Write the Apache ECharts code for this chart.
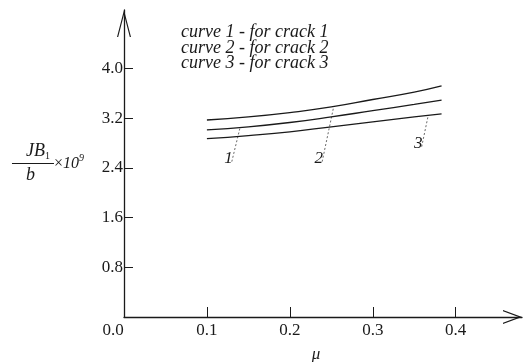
<!DOCTYPE html>
<html>
<head>
<meta charset="utf-8">
<script src="https://cdn.jsdelivr.net/npm/echarts@6/dist/echarts.min.js"></script>
<style>
  html, body { margin: 0; padding: 0; background: #fff; }
  #chart { width: 525px; height: 362px; }
</style>
</head>
<body>
<div id="chart"></div>
<script>
// friction coefficient samples along the x axis
const mu = [0.10, 0.15, 0.20, 0.25, 0.30, 0.35, 0.383];
// JB1/b x 10^9 for the three cracks
const curve1 = [3.17, 3.22, 3.29, 3.38, 3.50, 3.62, 3.72];
const curve2 = [3.01, 3.06, 3.13, 3.22, 3.32, 3.42, 3.49];
const curve3 = [2.87, 2.92, 2.98, 3.06, 3.14, 3.22, 3.27];

// leader lines: [label end, curve end] in data units, with the label text
const leader1 = [[0.130, 2.50], [0.140, 3.05]];
const leader2 = [[0.239, 2.50], [0.253, 3.39]];
const leader3 = [[0.359, 2.74], [0.367, 3.25]];
const leaderText = ['1', '2', '3'];

const xTicks = [0.1, 0.2, 0.3, 0.4];
const xLabels = [0, 0.1, 0.2, 0.3, 0.4];
const yTicks = [0.8, 1.6, 2.4, 3.2, 4.0];

const legendLines = [
  'curve 1 - for crack 1',
  'curve 2 - for crack 2',
  'curve 3 - for crack 3'
];

const serif = '"Liberation Serif", "DejaVu Serif", serif';
const ink = '#1a1a1a';

// open chevron heads for the axis ends (pointing up before rotation)
const chevronY = 'path://M0,27 L7,0 L14,27 L12.8,27 L7,4.6 L1.2,27 Z';
const chevronX = 'path://M0,19 L7,0 L14,19 L12.7,19 L7,3.6 L1.3,19 Z';

function curveSeries(data) {
  return {
    type: 'line',
    data: mu.map((x, i) => [x, data[i]]),
    smooth: true,
    symbol: 'none',
    lineStyle: { color: ink, width: 1.3 },
    silent: true,
    z: 3
  };
}

function leaderSeries(pts, text) {
  return {
    type: 'line',
    data: pts.map((p, i) => ({
      value: p,
      label: i === 0 ? {
        show: true,
        formatter: text,
        position: 'left',
        distance: 0,
        offset: [1, -3],
        fontFamily: serif,
        fontStyle: 'italic',
        fontSize: 17,
        color: ink
      } : { show: false }
    })),
    symbol: 'circle',
    symbolSize: 0.1,
    showSymbol: true,
    lineStyle: { color: '#444', width: 0.8, type: [2, 2] },
    itemStyle: { color: 'transparent' },
    silent: true,
    z: 2
  };
}

const chart = echarts.init(document.getElementById('chart'));
chart.setOption({
  animation: false,
  backgroundColor: '#fff',
  title: {
    text: legendLines.join('\n'),
    left: 176,
    top: 20,
    textStyle: {
      fontFamily: serif,
      fontStyle: 'italic',
      fontWeight: 'normal',
      fontSize: 18,
      lineHeight: 15.5,
      color: ink
    }
  },
  grid: {
    left: 124, right: 3, top: 10, bottom: 45,
    containLabel: false,
    outerBoundsMode: 'none'
  },
  xAxis: {
    type: 'value',
    min: 0,
    max: 0.48,
    interval: 0.1,
    name: 'μ',
    nameLocation: 'middle',
    nameGap: 29,
    nameTextStyle: {
      fontFamily: serif,
      fontStyle: 'italic',
      fontSize: 17,
      color: ink,
      padding: [0, 14, 0, 0]
    },
    splitLine: { show: false },
    axisLine: {
      lineStyle: { color: ink, width: 1.3 },
      symbol: ['none', chevronX],
      symbolSize: [14, 19],
      symbolOffset: [0, -9.5]
    },
    axisTick: {
      inside: true,
      length: 10,
      customValues: xTicks,
      lineStyle: { color: ink, width: 1 }
    },
    axisLabel: {
      customValues: xLabels,
      margin: 5,
      fontFamily: serif,
      fontSize: 17,
      color: ink,
      formatter: v => v === 0 ? '{o|0.0}' : v.toFixed(1),
      rich: {
        o: { fontFamily: serif, fontSize: 17, color: ink, padding: [0, 22, 0, 0] }
      }
    }
  },
  yAxis: {
    type: 'value',
    min: 0,
    max: 4.94,
    interval: 0.8,
    name: '{n|JB}{s|1}{sp1|}\n{bar|}{x|×}{t|10}{sup|9}\n{n|b}{sp3|}',
    nameLocation: 'middle',
    nameRotate: 0,
    nameGap: 40,
    nameTextStyle: {
      align: 'right',
      verticalAlign: 'middle',
      rich: {
        n: { fontFamily: serif, fontStyle: 'italic', fontSize: 18, color: ink, lineHeight: 20 },
        s: { fontFamily: serif, fontSize: 10, color: ink, padding: [10, 0, 0, 0], lineHeight: 20 },
        sp1: { width: 34, height: 1 },
        sp3: { width: 49, height: 1 },
        bar: { width: 42, height: 1, backgroundColor: ink, lineHeight: 4 },
        x: { fontFamily: serif, fontSize: 16, color: ink, lineHeight: 4 },
        t: { fontFamily: serif, fontStyle: 'italic', fontSize: 16, color: ink, lineHeight: 4 },
        sup: { fontFamily: serif, fontStyle: 'italic', fontSize: 10, color: ink, padding: [0, 0, 10, 0], lineHeight: 4 }
      }
    },
    splitLine: { show: false },
    axisLine: {
      lineStyle: { color: ink, width: 1.3 },
      symbol: ['none', chevronY],
      symbolSize: [14, 27],
      symbolOffset: [0, -13.5]
    },
    axisTick: {
      inside: true,
      length: 9,
      customValues: yTicks,
      lineStyle: { color: ink, width: 1 }
    },
    axisLabel: {
      customValues: yTicks,
      margin: 1,
      fontFamily: serif,
      fontSize: 17,
      color: ink,
      formatter: v => v.toFixed(1)
    }
  },
  series: [
    curveSeries(curve1),
    curveSeries(curve2),
    curveSeries(curve3),
    leaderSeries(leader1, leaderText[0]),
    leaderSeries(leader2, leaderText[1]),
    leaderSeries(leader3, leaderText[2])
  ]
});
</script>
</body>
</html>
